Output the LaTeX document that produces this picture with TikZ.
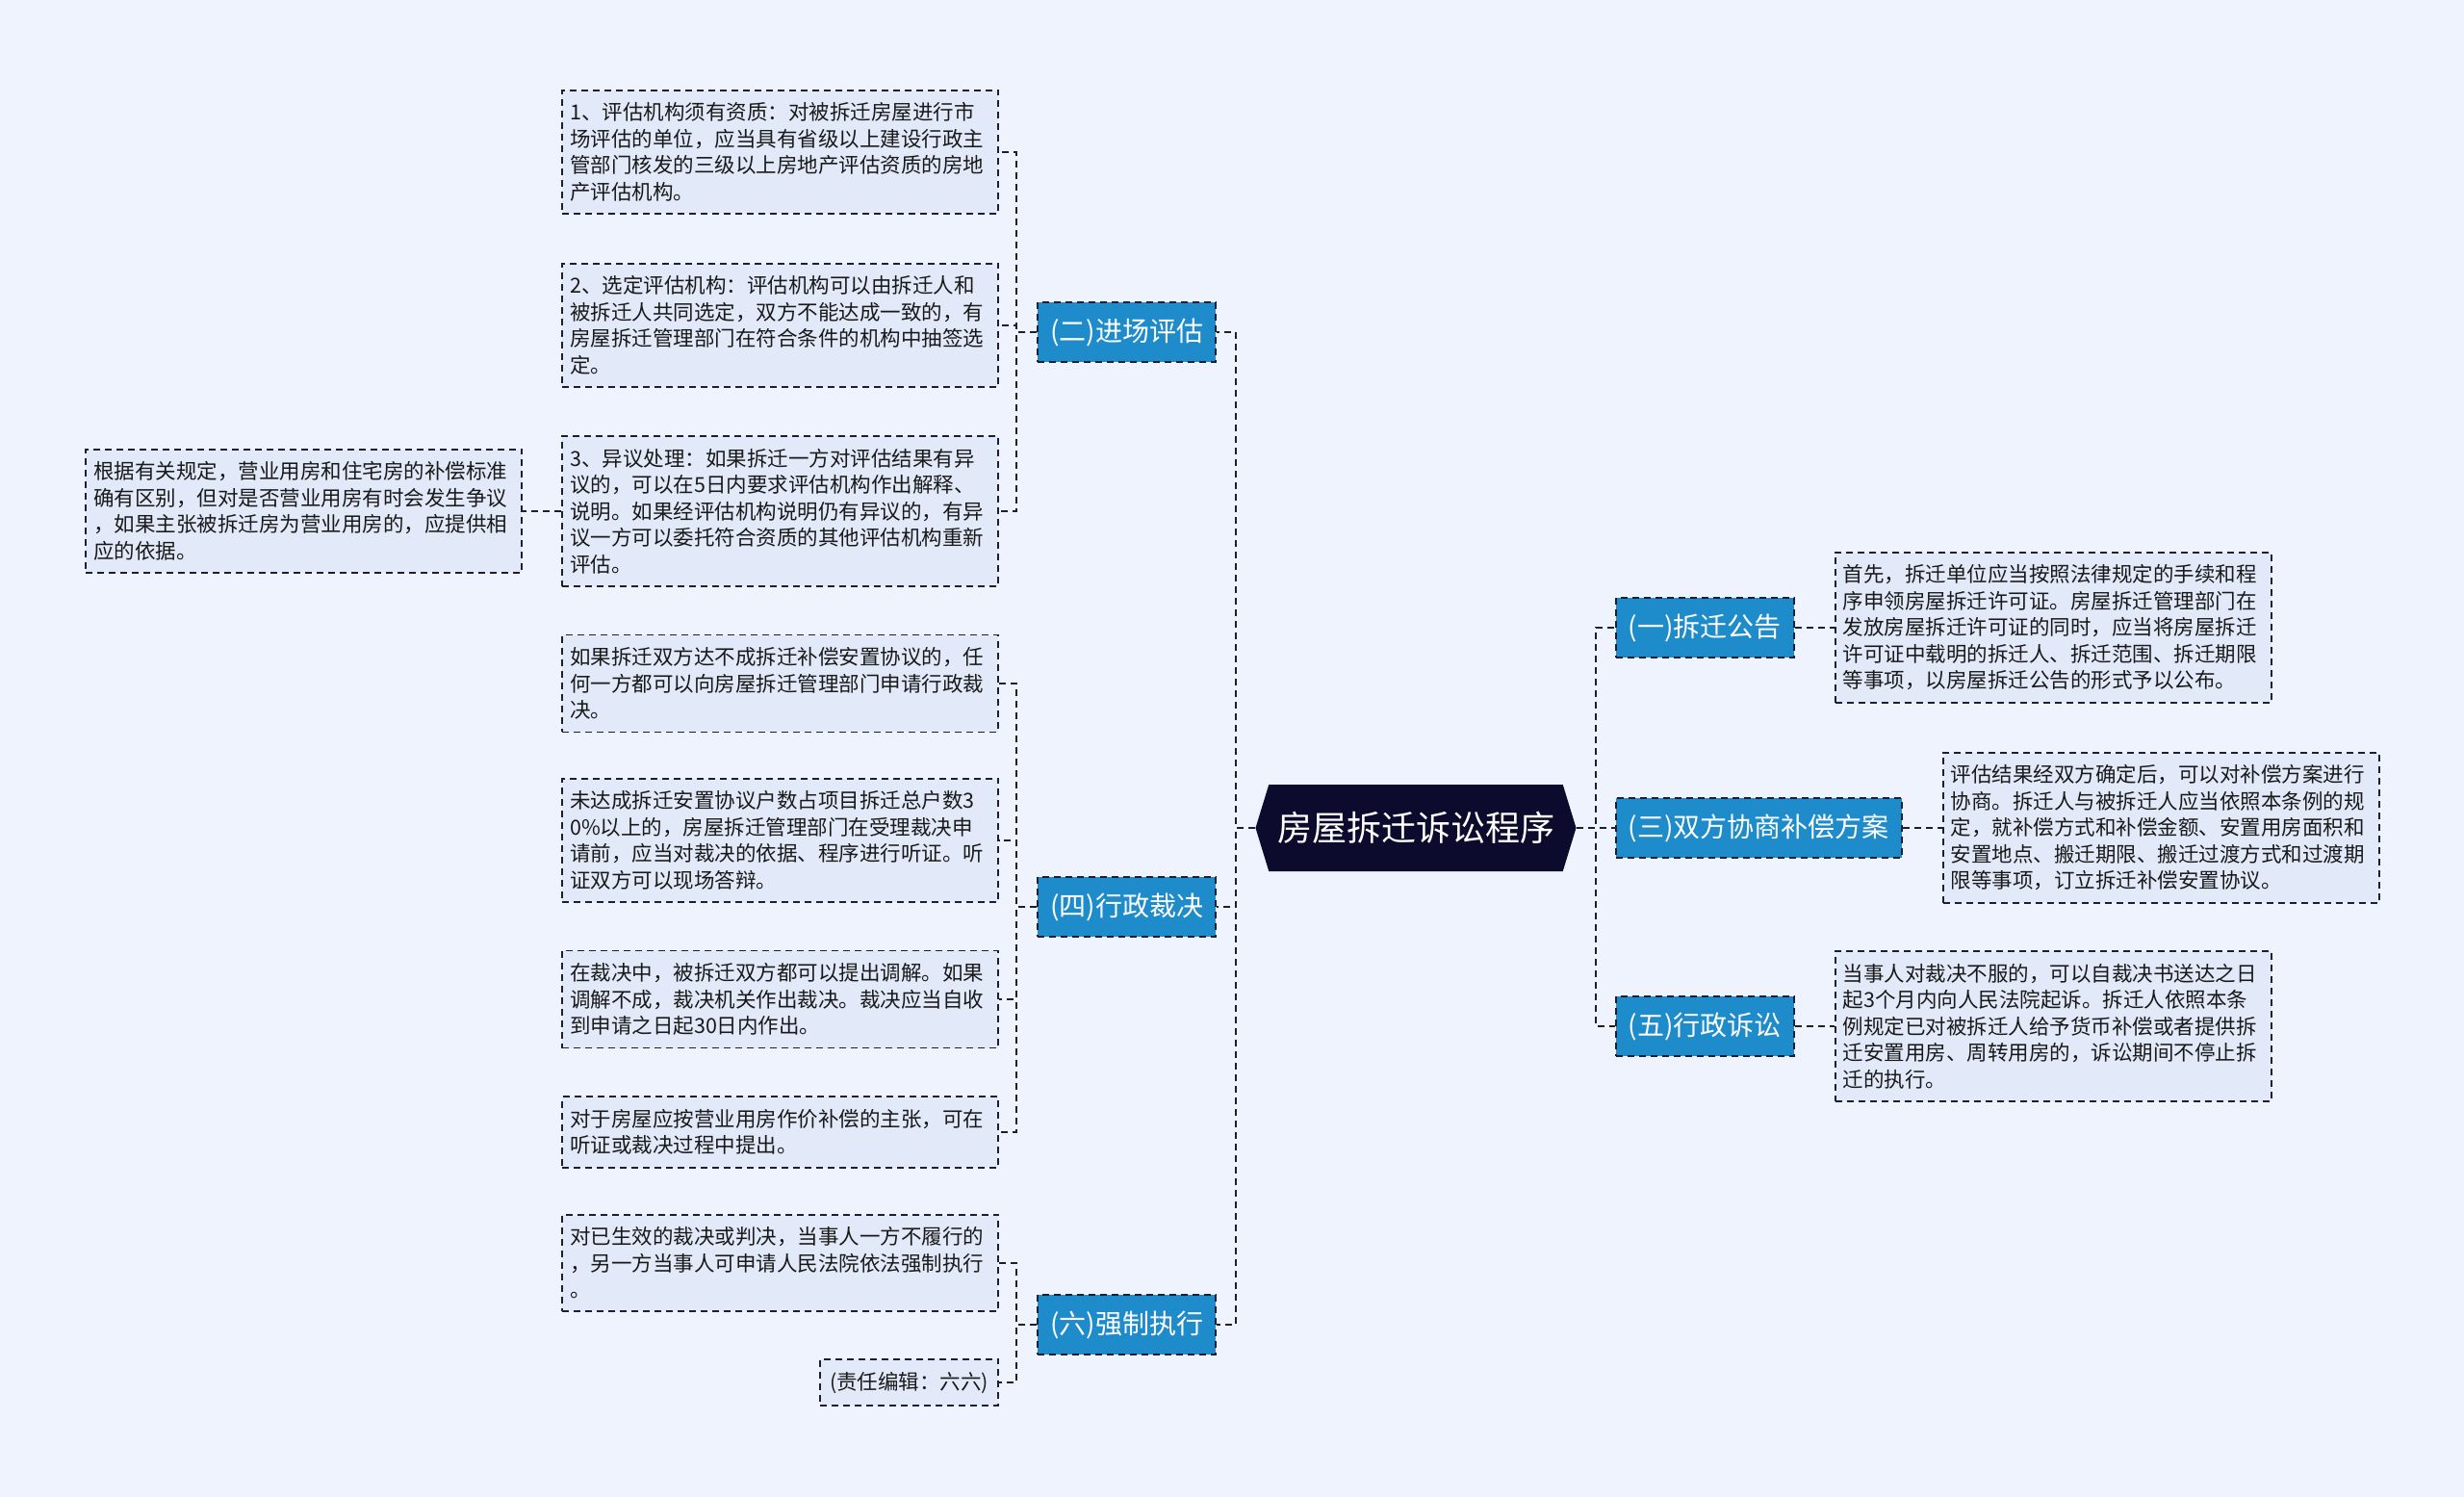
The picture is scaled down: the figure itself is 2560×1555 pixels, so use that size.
\documentclass[tikz,border=0pt]{standalone}
\usepackage{fontspec}
\setmainfont{Noto Sans CJK SC}
\usetikzlibrary{positioning, shapes.symbols}
\definecolor{bgpale}{HTML}{EEF3FD}
\definecolor{topicblue}{HTML}{1E8BCB}
\definecolor{rootnavy}{HTML}{0C0B2E}
\definecolor{notefill}{HTML}{E2EAFA}
\definecolor{linedark}{HTML}{1C1F33}

\begin{document}
\begin{tikzpicture}[
  x=1pt, y=-1pt,
  node distance=41pt,
  root/.style={signal, signal to=east and west, signal pointer angle=146,
               fill=rootnavy, text=white, minimum width=333pt, minimum height=90pt,
               inner xsep=4pt, font=\fontsize{36}{40}\selectfont},
  topic/.style={rectangle, draw=linedark, line width=1.8pt, dash pattern=on 7pt off 5pt,
                fill=topicblue, text=white, minimum height=62pt, inner xsep=13pt,
                font=\fontsize{28}{32}\selectfont},
  note/.style={rectangle, draw=linedark, line width=1.8pt, dash pattern=on 7pt off 5pt,
               fill=notefill, text=black!90, text width=437pt, align=left,
               inner xsep=8pt, inner ysep=13pt, font=\fontsize{21.5}{27.5}\selectfont},
  link/.style={draw=linedark, line width=1.8pt, dash pattern=on 7pt off 5pt}
]
  \fill[bgpale] (0,0) rectangle (2560,1555);

  % root and main topics
  \node[root] (root) at (1471,860) {房屋拆迁诉讼程序};

  \node[topic, anchor=east] (t2) at (1264,345) {(二)进场评估};
  \node[topic, anchor=east] (t4) at (1264,942) {(四)行政裁决};
  \node[topic, anchor=east] (t6) at (1264,1376) {(六)强制执行};

  \node[topic, anchor=west] (t1) at (1678,652) {(一)拆迁公告};
  \node[topic, anchor=west] (t3) at (1678,860) {(三)双方协商补偿方案};
  \node[topic, anchor=west] (t5) at (1678,1066) {(五)行政诉讼};

  % notes on the right
  \node[note, right=of t1] (n1) {首先，拆迁单位应当按照法律规定的手续和程\\序申领房屋拆迁许可证。房屋拆迁管理部门在\\发放房屋拆迁许可证的同时，应当将房屋拆迁\\许可证中载明的拆迁人、拆迁范围、拆迁期限\\等事项，以房屋拆迁公告的形式予以公布。};
  \node[note, right=of t3] (n3) {评估结果经双方确定后，可以对补偿方案进行\\协商。拆迁人与被拆迁人应当依照本条例的规\\定，就补偿方式和补偿金额、安置用房面积和\\安置地点、搬迁期限、搬迁过渡方式和过渡期\\限等事项，订立拆迁补偿安置协议。};
  \node[note, right=of t5] (n5) {当事人对裁决不服的，可以自裁决书送达之日\\起3个月内向人民法院起诉。拆迁人依照本条\\例规定已对被拆迁人给予货币补偿或者提供拆\\迁安置用房、周转用房的，诉讼期间不停止拆\\迁的执行。};

  % notes on the left
  \node[note, anchor=east] (a1) at (1038,158) {1、评估机构须有资质：对被拆迁房屋进行市\\场评估的单位，应当具有省级以上建设行政主\\管部门核发的三级以上房地产评估资质的房地\\产评估机构。};
  \node[note, anchor=east] (a2) at (1038,338) {2、选定评估机构：评估机构可以由拆迁人和\\被拆迁人共同选定，双方不能达成一致的，有\\房屋拆迁管理部门在符合条件的机构中抽签选\\定。};
  \node[note, anchor=east] (a3) at (1038,531) {3、异议处理：如果拆迁一方对评估结果有异\\议的，可以在5日内要求评估机构作出解释、\\说明。如果经评估机构说明仍有异议的，有异\\议一方可以委托符合资质的其他评估机构重新\\评估。};
  \node[note, left=40pt of a3] (far) {根据有关规定，营业用房和住宅房的补偿标准\\确有区别，但对是否营业用房有时会发生争议\\，如果主张被拆迁房为营业用房的，应提供相\\应的依据。};

  \node[note, anchor=east] (b1) at (1038,710) {如果拆迁双方达不成拆迁补偿安置协议的，任\\何一方都可以向房屋拆迁管理部门申请行政裁\\决。};
  \node[note, anchor=east] (b2) at (1038,873) {未达成拆迁安置协议户数占项目拆迁总户数3\\0\%以上的，房屋拆迁管理部门在受理裁决申\\请前，应当对裁决的依据、程序进行听证。听\\证双方可以现场答辩。};
  \node[note, anchor=east] (b3) at (1038,1038) {在裁决中，被拆迁双方都可以提出调解。如果\\调解不成，裁决机关作出裁决。裁决应当自收\\到申请之日起30日内作出。};
  \node[note, anchor=east] (b4) at (1038,1176) {对于房屋应按营业用房作价补偿的主张，可在\\听证或裁决过程中提出。};

  \node[note, anchor=east] (c1) at (1038,1312) {对已生效的裁决或判决，当事人一方不履行的\\，另一方当事人可申请人民法院依法强制执行\\。};
  \node[note, anchor=east, text width=, inner xsep=10pt] (c2) at (1038,1436) {(责任编辑：六六)};

  % connectors
  \foreach \t in {t2,t4,t6}
    \draw[link] (root.west) -- ++(-20,0) |- (\t.east);
  \foreach \t in {t1,t3,t5}
    \draw[link] (root.east) -- ++(20,0) |- (\t.west);

  \foreach \n in {a1,a2,a3}
    \draw[link] (t2.west) -- ++(-21,0) |- (\n.east);
  \foreach \n in {b1,b2,b3,b4}
    \draw[link] (t4.west) -- ++(-21,0) |- (\n.east);
  \foreach \n in {c1,c2}
    \draw[link] (t6.west) -- ++(-21,0) |- (\n.east);
  \draw[link] (a3.west) -- (far.east);

  \draw[link] (t1.east) -- (n1.west);
  \draw[link] (t3.east) -- (n3.west);
  \draw[link] (t5.east) -- (n5.west);
\end{tikzpicture}
\end{document}
